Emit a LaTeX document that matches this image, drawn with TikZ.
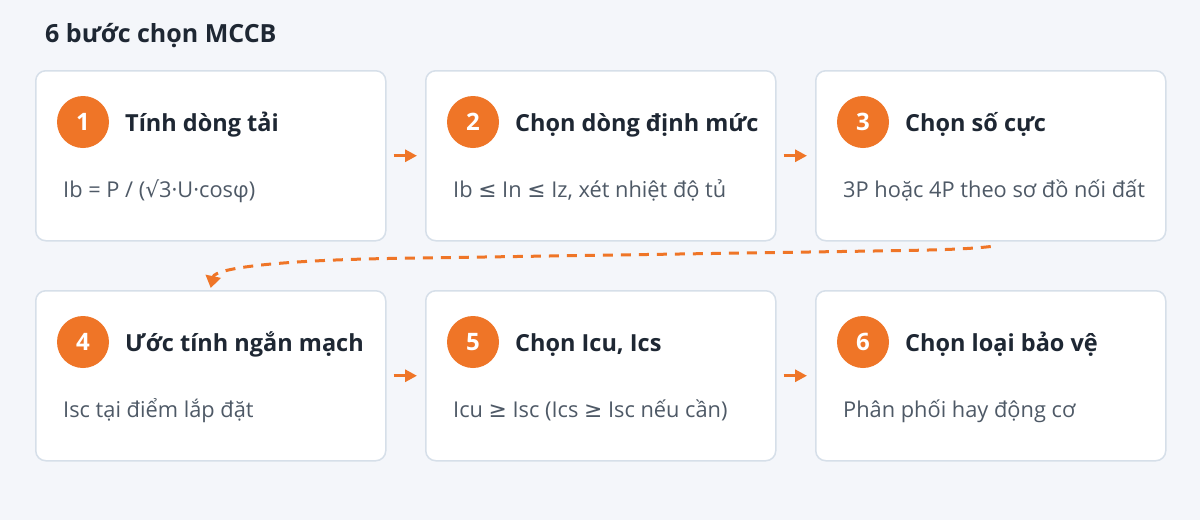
\documentclass[tikz,border=0pt]{standalone}
\usepackage{fontspec}
\setmainfont{Open Sans}
\newfontfamily\symfont{DejaVu Sans}
\usetikzlibrary{arrows.meta}
\definecolor{bg}{HTML}{F4F6FA}
\definecolor{cardborder}{HTML}{D6DFE9}
\definecolor{accent}{HTML}{EF7527}
\definecolor{headtext}{HTML}{1E2733}
\definecolor{desctext}{HTML}{4E5966}
\newcommand{\mystepcard}[5]{%
  \node[card] (c#1) at (#2,#3) {};
  \node[num] (n#1) at (#2+48,#3+52) {#1};
  \node[head] (h#1) at (#2+90,#3+61.5) {#4};
  \node[desc] (d#1) at (#2+28,#3+127.5) {#5};
}
\newcommand{\sy}[1]{{\symfont #1}}
\begin{document}
\begin{tikzpicture}[x=1pt,y=-1pt,
  card/.style={draw=cardborder, line width=1.5pt, fill=white, rounded corners=10pt,
    minimum width=350pt, minimum height=170pt, inner sep=0pt, anchor=north west},
  num/.style={circle, fill=accent, minimum size=52pt, inner sep=0pt, text=white,
    font=\bfseries\fontsize{24}{26}\selectfont},
  head/.style={anchor=base west, text=headtext, inner sep=0pt,
    font=\bfseries\fontsize{23.5}{26}\selectfont},
  desc/.style={anchor=base west, text=desctext, inner sep=0pt,
    font=\fontsize{21.8}{24}\selectfont},
  flow/.style={draw=accent, line width=3pt, -{Triangle[length=12pt,width=12pt]}},
  dashflow/.style={draw=accent, line width=3pt, dash pattern=on 10pt off 8pt,
    -{Triangle[length=12pt,width=15pt]}},
]
\fill[bg] (0,0) rectangle (1200,520);
\useasboundingbox (0,0) rectangle (1200,520);
\node[anchor=base west, inner sep=0pt, text=headtext, font=\bfseries\fontsize{25}{28}\selectfont]
  (title) at (45,42) {6 bước chọn MCCB};
\mystepcard{1}{35}{70}{Tính dòng tải}{Ib = P / (\sy{√}3·U·cosφ)}
\mystepcard{2}{425}{70}{Chọn dòng định mức}{Ib \sy{≤} In \sy{≤} Iz, xét nhiệt độ tủ}
\mystepcard{3}{815}{70}{Chọn số cực}{3P hoặc 4P theo sơ đồ nối đất}
\mystepcard{4}{35}{290}{Ước tính ngắn mạch}{Isc tại điểm lắp đặt}
\mystepcard{5}{425}{290}{Chọn Icu, Ics}{Icu \sy{≥} Isc (Ics \sy{≥} Isc nếu cần)}
\mystepcard{6}{815}{290}{Chọn loại bảo vệ}{Phân phối hay động cơ}
\draw[flow] ([xshift=7pt]c1.east) -- ([xshift=-8pt]c2.west);
\draw[flow] ([xshift=7pt]c2.east) -- ([xshift=-8pt]c3.west);
\draw[flow] ([xshift=7pt]c4.east) -- ([xshift=-8pt]c5.west);
\draw[flow] ([xshift=7pt]c5.east) -- ([xshift=-8pt]c6.west);
\draw[dashflow] ([yshift=-5pt]c3.south) .. controls (965,249.5) and (930,250) .. (900,250.6)
  -- (400,258.3) .. controls (280,260) and (215,268) .. ([yshift=2pt]c4.north);
\end{tikzpicture}
\end{document}
